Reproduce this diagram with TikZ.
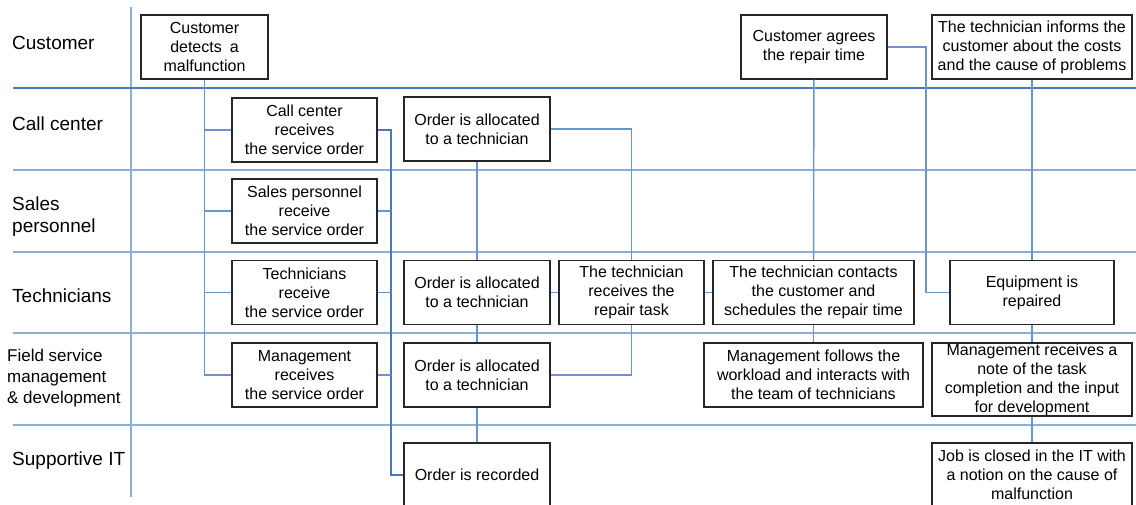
\documentclass[tikz,border=0pt]{standalone}
\usepackage{fontspec}
\setmainfont{Liberation Sans}
\definecolor{lanecol}{HTML}{8CAEDC}
\definecolor{linkcol}{HTML}{6A94CE}
\definecolor{buscol}{HTML}{4A78BA}
\begin{document}
\begin{tikzpicture}[x=1pt,y=-1pt,
	box/.style={draw=black!85,line width=1.1pt,fill=white,inner sep=0pt,align=center,minimum width=146,minimum height=64,font=\fontsize{16}{19}\selectfont},
	lbl/.style={anchor=west,align=left,inner sep=0pt,font=\fontsize{19}{22}\selectfont},
	lane/.style={lanecol,line width=1.2pt},
	link/.style={linkcol,line width=1.4pt},
	bus/.style={buscol,line width=2pt}]
	\useasboundingbox (0,0) rectangle (1136,505);

	% lanes
	\draw[lane] (131,7) -- (131,497);
	\draw[buscol,line width=2pt] (13,88) -- (1136,88);
	\foreach \y in {170,252,333,425}
		\draw[lane] (13,\y) -- (1136,\y);

	\node[lbl] (lcust) at (12,43) {Customer};
	\node[lbl] (lcall) at (12,124) {Call center};
	\node[lbl] (lsales) at (12,217) {Sales\\personnel};
	\node[lbl] (ltech) at (12,296) {Technicians};
	\node[lbl,font=\fontsize{17}{21}\selectfont] (lfield) at (7,378) {Field service\\management\\\& development};
	\node[lbl] (lit) at (12,461) {Supportive IT};

	% activities
	\node[box,minimum width=127] at (204.5,47) (detect) {Customer\\detects\enspace a\\malfunction};
	\node[box,minimum width=145] at (304.5,130) (ccrecv) {Call center\\receives\\the service order};
	\node[box,minimum width=145] at (304.5,211) (salesrecv) {Sales personnel\\receive\\the service order};
	\node[box,minimum width=145] at (304.5,292.5) (techrecv) {Technicians\\receive\\the service order};
	\node[box,minimum width=145] at (304.5,375) (mgmtrecv) {Management\\receives\\the service order};
	\node[box] at (477,129) (alloccc) {Order is allocated\\to a technician};
	\node[box] at (477,292.5) (alloctech) {Order is allocated\\to a technician};
	\node[box] at (477,375) (allocfs) {Order is allocated\\to a technician};
	\node[box] at (477,475) (recorded) {Order is recorded};
	\node[box,minimum width=145] at (631.5,292.5) (taskrecv) {The technician\\receives the\\repair task};
	\node[box,minimum width=201] at (813.5,292.5) (contact) {The technician contacts\\the customer and\\schedules the repair time};
	\node[box,minimum width=219] at (813.5,375) (follows) {Management follows the\\workload and interacts with\\the team of technicians};
	\node[box] at (814,47) (agree) {Customer agrees\\the repair time};
	\node[box,minimum width=200] at (1032,47) (inform) {The technician informs the\\customer about the costs\\and the cause of problems};
	\node[box,minimum width=164] at (1032,292.5) (repaired) {Equipment is\\repaired};
	\node[box,minimum width=200,minimum height=73] at (1032,379.5) (note) {Management receives a\\note of the task\\completion and the input\\for development};
	\node[box,minimum width=200] at (1032,475) (closed) {Job is closed in the IT with\\a notion on the cause of\\malfunction};
	\coordinate (bus) at (390.5,130);
	\coordinate (turn) at (926,47);

	% flow
	\draw[link]	(detect.south) |- (mgmtrecv.west);
	\draw[link]	(detect.south |- ccrecv.west) -- (ccrecv.west);
	\draw[link]	(detect.south |- salesrecv.west) -- (salesrecv.west);
	\draw[link]	(detect.south |- techrecv.west) -- (techrecv.west);
	\draw[bus]	(ccrecv.east) -- (bus) |- (recorded.west);
	\draw[link]	(salesrecv.east) -- (salesrecv.east -| bus);
	\draw[link]	(techrecv.east) -- (techrecv.east -| bus);
	\draw[link]	(mgmtrecv.east) -- (mgmtrecv.east -| bus);
	\draw[link]	(alloccc) -- (alloctech);
	\draw[link]	(alloccc.east) -| (taskrecv.north);
	\draw[link]	(alloctech) -- (taskrecv);
	\draw[link]	(taskrecv) -- (contact);
	\draw[link]	(alloctech) -- (allocfs);
	\draw[link]	(taskrecv.south) |- (allocfs.east);
	\draw[link]	(allocfs) -- (recorded);
	\draw[link]	(agree) -- (contact);
	\draw[link]	(contact) -- (follows);
	\draw[link]	(agree.east) -- (turn) |- (repaired.west);
	\draw[link]	(inform) -- (repaired);
	\draw[link]	(repaired) -- (note);
	\draw[link]	(note) -- (closed);
\end{tikzpicture}
\end{document}
